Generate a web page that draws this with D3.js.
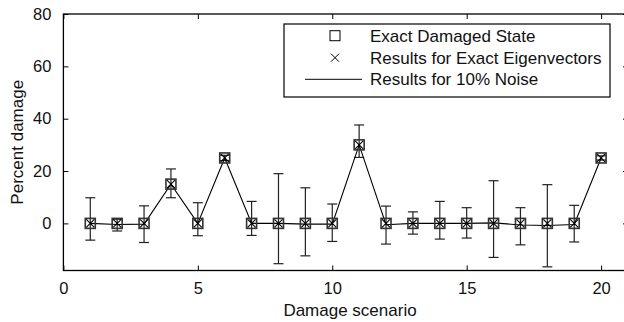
<!DOCTYPE html>
<html><head><meta charset="utf-8">
<script src="https://cdn.jsdelivr.net/npm/d3@7"></script>
<style>body{margin:0;background:#fff}svg{display:block}text{font-family:"Liberation Sans",Arial,sans-serif;fill:#111}</style>
</head><body><svg id="c" width="624" height="322"></svg>
<script>
const scenarios = d3.range(1, 21);
const exactDamage = [0,0,0,15,0,25,0,0,0,0,30,0,0,0,0,0,0,0,0,25];
const exactEigen  = [0,0,0,15,0,25,0,0,0,0,30,0,0,0,0,0,0,0,0,25];
const noiseMean   = [0,-0.4,-0.3,15,0,25,0,0,-0.3,-0.3,30,-0.5,0,0,0,0.2,-0.6,-0.8,-0.4,25];
const noiseLow    = [-6.4,-2.9,-7.3,9.8,-4.7,24,-4.6,-15.4,-12.4,-6.9,25.2,-7.9,-4.1,-6.0,-5.6,-13,-8.2,-16.6,-7.1,24.2];
const noiseHigh   = [9.8,1.6,6.7,20.8,7.9,26,8.4,19,13.6,7.4,37.6,6.6,4.4,8.4,6.0,16.3,6.0,14.8,6.9,25.8];
const xTicks = [0,5,10,15,20];
const yTicks = [0,20,40,60,80];
const legendLabels = ["Exact Damaged State","Results for Exact Eigenvectors","Results for 10% Noise"];

const svg = d3.select("#c");
const L = 63.4, R = 628, T = 14, B = 270.5;
const x = d3.scaleLinear().domain([0,21]).range([L,R]);
const y = d3.scaleLinear().domain([-18,80]).range([B,T]);
const fs = 16.5;

// frame
svg.append("rect").attr("x",L).attr("y",T).attr("width",R-L).attr("height",B-T)
  .attr("fill","none").attr("stroke","#000").attr("stroke-width",1.3);

// axes
const ax = svg.append("g").attr("transform",`translate(0,${B})`)
  .call(d3.axisBottom(x).tickValues(xTicks).tickSize(-5).tickPadding(12).tickFormat(d3.format("d")));
const axT = svg.append("g").attr("transform",`translate(0,${T})`)
  .call(d3.axisTop(x).tickValues(xTicks).tickSize(-5).tickFormat(""));
const ay = svg.append("g").attr("transform",`translate(${L},0)`)
  .call(d3.axisLeft(y).tickValues(yTicks).tickSize(-5).tickPadding(12).tickFormat(d3.format("d")));
const ayR = svg.append("g").attr("transform",`translate(${R},0)`)
  .call(d3.axisRight(y).tickValues(yTicks).tickSize(-5).tickFormat(""));
[ax,axT,ay,ayR].forEach(g=>{
  g.select(".domain").remove();
  g.selectAll(".tick line").attr("stroke","#000").attr("stroke-width",1);
  g.selectAll("text").attr("font-size",fs).attr("font-family","Liberation Sans, Arial, sans-serif").attr("fill","#111");
});

// axis labels
svg.append("text").attr("x",350).attr("y",316).attr("text-anchor","middle")
  .attr("font-size",17).text("Damage scenario");
svg.append("text").attr("transform",`translate(23,${(T+B)/2}) rotate(-90)`).attr("text-anchor","middle")
  .attr("font-size",17).text("Percent damage");

const g = svg.append("g");
// error bars
const cap = 5;
scenarios.forEach((s,i)=>{
  const cx = x(s);
  g.append("line").attr("x1",cx).attr("x2",cx).attr("y1",y(noiseLow[i])).attr("y2",y(noiseHigh[i]))
    .attr("stroke","#222").attr("stroke-width",1.2);
  [noiseLow[i],noiseHigh[i]].forEach(v=>{
    g.append("line").attr("x1",cx-cap).attr("x2",cx+cap).attr("y1",y(v)).attr("y2",y(v))
      .attr("stroke","#222").attr("stroke-width",1.2);
  });
});
// noise line
g.append("path").datum(scenarios.map((s,i)=>[s,noiseMean[i]]))
  .attr("d",d3.line().x(d=>x(d[0])).y(d=>y(d[1])))
  .attr("fill","none").attr("stroke","#000").attr("stroke-width",1.1);
// squares
const sq = 5;
g.selectAll(".sq").data(scenarios).join("rect").attr("class","sq")
  .attr("x",d=>x(d)-sq).attr("y",(d,i)=>y(exactDamage[i])-sq).attr("width",sq*2).attr("height",sq*2)
  .attr("fill","none").attr("stroke","#333").attr("stroke-width",1.6);
// crosses
const cr = 4;
scenarios.forEach((s,i)=>{
  const cx = x(s), cy = y(exactEigen[i]);
  g.append("path").attr("d",`M${cx-cr},${cy-cr}L${cx+cr},${cy+cr}M${cx-cr},${cy+cr}L${cx+cr},${cy-cr}`)
    .attr("stroke","#000").attr("stroke-width",1.1).attr("fill","none");
});

// legend
const lg = svg.append("g");
lg.append("rect").attr("x",284).attr("y",24).attr("width",326).attr("height",73)
  .attr("fill","#fff").attr("stroke","#000").attr("stroke-width",1.2);
const rowY = [35.7,57.7,79.3];
const symX = 335;
lg.append("rect").attr("x",symX-5).attr("y",rowY[0]-5).attr("width",10).attr("height",10)
  .attr("fill","none").attr("stroke","#000").attr("stroke-width",1);
lg.append("path").attr("d",`M${symX-4},${rowY[1]-4}L${symX+4},${rowY[1]+4}M${symX-4},${rowY[1]+4}L${symX+4},${rowY[1]-4}`)
  .attr("stroke","#000").attr("stroke-width",1);
lg.append("line").attr("x1",305).attr("x2",362).attr("y1",rowY[2]).attr("y2",rowY[2])
  .attr("stroke","#000").attr("stroke-width",1);
legendLabels.forEach((t,i)=>{
  lg.append("text").attr("x",370).attr("y",rowY[i]).attr("dy","0.36em").attr("font-size",17).text(t);
});
</script></body></html>
